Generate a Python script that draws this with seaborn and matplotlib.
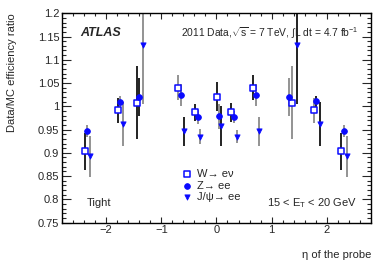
import numpy as np
import pandas as pd
import matplotlib
matplotlib.use("Agg")
import matplotlib.pyplot as plt
from matplotlib.ticker import MultipleLocator
import seaborn as sns

# values (eta of the probe, Data/MC ratio, error)
w_eta = [-2.39, -1.79, -1.446, -0.69, -0.39, 0.005, 0.26, 0.67, 1.366, 1.77, 2.26]
w_ratio = [0.903, 0.991, 1.008, 1.040, 0.987, 1.021, 0.987, 1.040, 1.008, 0.991, 0.903]
w_err = [0.040, 0.027, 0.078, 0.027, 0.019, 0.032, 0.020, 0.027, 0.078, 0.027, 0.040]

z_eta = [-2.34, -1.74, -1.397, -0.64, -0.34, 0.05, 0.315, 0.72, 1.317, 1.81, 2.32]
z_ratio = [0.947, 1.010, 1.020, 1.024, 0.977, 0.979, 0.977, 1.024, 1.020, 1.011, 0.947]
z_err = [0.013, 0.012, 0.040, 0.023, 0.015, 0.027, 0.013, 0.023, 0.040, 0.012, 0.013]

j_eta = [-2.29, -1.69, -1.337, -0.59, -0.29, 0.085, 0.365, 0.765, 1.468, 1.87, 2.37]
j_ratio = [0.893, 0.962, 1.131, 0.946, 0.935, 0.958, 0.935, 0.946, 1.131, 0.962, 0.893]
j_err = [0.044, 0.047, 0.127, 0.032, 0.016, 0.043, 0.013, 0.032, 0.127, 0.047, 0.044]

# error bar shade per point (k = black, g = grey), as seen in the picture
w_bar = ['k', 'k', 'k', 'g', 'k', 'k', 'k', 'k', 'g', 'g', 'k']
z_bar = ['g', 'g', 'k', 'g', 'g', 'g', 'g', 'g', 'g', 'k', 'g']
j_bar = ['g', 'g', 'g', 'k', 'g', 'k', 'g', 'g', 'k', 'k', 'g']

labels = ['W→ eν', 'Z→ ee', 'J/ψ→ ee']

sns.set_style("ticks")
plt.rcParams['font.family'] = ['Liberation Sans', 'DejaVu Sans']
plt.rcParams['mathtext.fontset'] = 'custom'
plt.rcParams['mathtext.rm'] = 'Liberation Sans'
plt.rcParams['mathtext.it'] = 'Liberation Sans'
plt.rcParams['mathtext.sf'] = 'Liberation Sans'

blue = '#0a0aff'
shade = {'k': '#111111', 'g': '#8a8a8a'}

fig = plt.figure(figsize=(3.9, 2.65), dpi=100)
ax = fig.add_axes([0.159, 0.16, 0.792, 0.79])

series = [
    (w_eta, w_ratio, w_err, w_bar, 's', 14),
    (z_eta, z_ratio, z_err, z_bar, 'o', 17),
    (j_eta, j_ratio, j_err, j_bar, 'v', 14),
]

for eta, ratio, err, bar, mk, size in series:
    r = np.array(ratio)
    e = np.array(err)
    ax.vlines(eta, r - e, r + e, colors=[shade[c] for c in bar], linewidth=1.3, zorder=2)

for (eta, ratio, err, bar, mk, size), lab in zip(series, labels):
    df = pd.DataFrame({'eta': eta, 'ratio': ratio})
    sns.scatterplot(data=df, x='eta', y='ratio', marker=mk, s=size, color=blue,
                    edgecolor=blue, linewidth=0.6, label=lab, ax=ax, zorder=3)
    if mk == 's':
        ax.collections[-1].set_facecolor('white')
        ax.collections[-1].set_linewidth(1.1)

ax.set_xlim(-2.8, 2.8)
ax.set_ylim(0.75, 1.2)
ax.xaxis.set_major_locator(MultipleLocator(1))
ax.xaxis.set_minor_locator(MultipleLocator(0.2))
ax.yaxis.set_minor_locator(MultipleLocator(0.01))
ax.set_yticks(np.arange(0.75, 1.2001, 0.05))
ax.set_yticklabels(['0.75', '0.8', '0.85', '0.9', '0.95', '1', '1.05', '1.1', '1.15', '1.2'])
ax.tick_params(axis='both', which='both', direction='in', top=True, right=True,
               labelsize=8, width=0.8, pad=2)
ax.tick_params(axis='x', which='major', length=4.5)
ax.tick_params(axis='x', which='minor', length=2.2)
ax.tick_params(axis='y', which='major', length=6.5)
ax.tick_params(axis='y', which='minor', length=3)
for sp in ax.spines.values():
    sp.set_linewidth(1.0)
    sp.set_color('black')

ax.set_xlabel('η of the probe', fontsize=8, loc='right')
ax.xaxis.set_label_coords(1.0, -0.13)
ax.set_ylabel('Data/MC efficiency ratio', fontsize=8, loc='top')
ax.yaxis.set_label_coords(-0.145, 1.0)

ax.text(0.058, 0.905, 'ATLAS', transform=ax.transAxes, fontsize=9,
        fontweight='bold', fontstyle='italic', va='center', ha='left')
ax.text(0.96, 0.905, '2011 Data,$\\sqrt{\\mathrm{s}}$ = 7 TeV, $\\int$L dt = 4.7 fb$^{-1}$',
        transform=ax.transAxes, fontsize=7.4, va='center', ha='right')
ax.text(0.08, 0.095, 'Tight', transform=ax.transAxes, fontsize=8, va='center', ha='left')
ax.text(0.955, 0.095, '15 < E$_\\mathrm{T}$ < 20 GeV', transform=ax.transAxes,
        fontsize=8, va='center', ha='right')

leg = ax.legend(loc='upper left', bbox_to_anchor=(0.388, 0.255), frameon=False,
                fontsize=8, handlelength=1.0, handletextpad=0.4, labelspacing=0.12,
                borderpad=0, borderaxespad=0)

fig.savefig('out.png', dpi=100)
